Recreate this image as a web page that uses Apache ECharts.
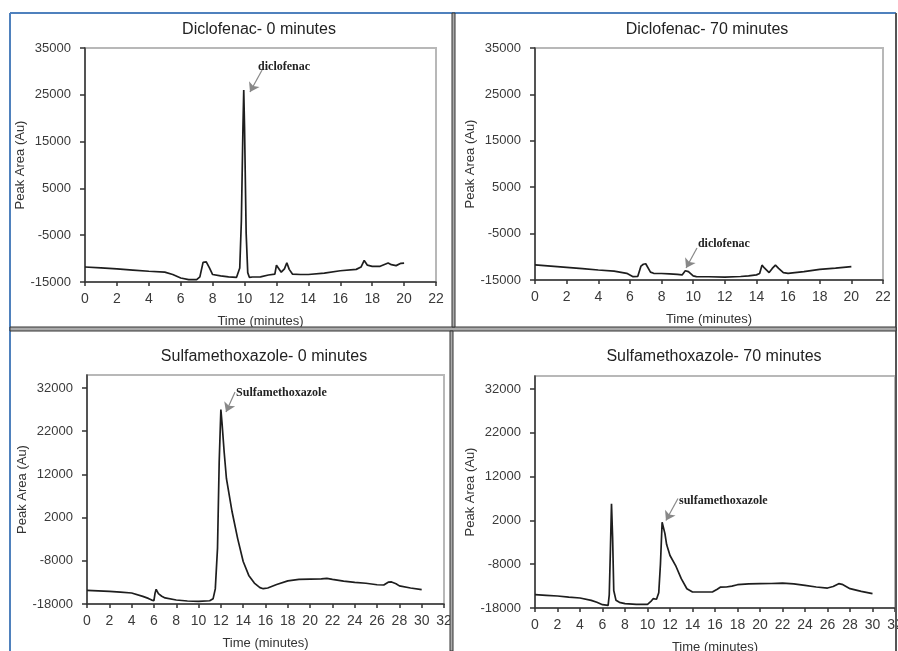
<!DOCTYPE html>
<html>
<head>
<meta charset="utf-8">
<script src="https://cdn.jsdelivr.net/npm/echarts@6/dist/echarts.min.js"></script>
<style>
html,body{margin:0;padding:0;background:#fff;}
#chart{width:898px;height:651px;}
</style>
</head>
<body>
<div id="chart"></div>
<script>
// ---------- DATA ----------
const titles = ['Diclofenac- 0 minutes', 'Diclofenac- 70 minutes', 'Sulfamethoxazole- 0 minutes', 'Sulfamethoxazole- 70 minutes'];

const diclo0Time = [0,1,2,3,4,5,5.5,6,6.5,7,7.2,7.4,7.5,7.6,7.8,8,8.5,9,9.5,9.7,9.8,9.9,9.95,10,10.1,10.2,10.3,10.5,11,11.5,11.9,12,12.1,12.3,12.5,12.65,12.8,13,13.5,14,15,16,17,17.3,17.5,17.7,18,18.5,19,19.2,19.5,19.8,20];
const diclo0Area = [-11800,-12000,-12200,-12450,-12700,-12900,-13400,-14150,-14500,-14500,-13900,-10800,-10400,-10700,-12000,-13400,-13700,-13900,-14000,-12000,-2000,18000,26000,18000,-4500,-13000,-14000,-13930,-13900,-13500,-13300,-11400,-11600,-12900,-12200,-10900,-12300,-13300,-13400,-13400,-13100,-12600,-12300,-11800,-10400,-11400,-11650,-11650,-10950,-11300,-11500,-11000,-10950];

const diclo70Time = [0,1,2,3,4,5,5.8,6.2,6.5,6.7,6.85,7,7.1,7.3,7.5,8,8.5,9,9.3,9.5,9.7,10,10.2,11,12,13,13.5,14,14.2,14.35,14.5,14.8,15,15.2,15.4,15.7,16,17,18,19,20];
const diclo70Area = [-11760,-12000,-12260,-12550,-12840,-13100,-13560,-14280,-14200,-12000,-11600,-11500,-11900,-13300,-13560,-13600,-13700,-13800,-13900,-13000,-13200,-14100,-14280,-14300,-14400,-14250,-14100,-13900,-13600,-11800,-12400,-13400,-12500,-11800,-12500,-13400,-13560,-13200,-12700,-12450,-12120];

const sulfa0Time = [0,1,2,3,4,5,5.5,5.8,6,6.1,6.2,6.4,6.7,7,8,9,10,11,11.3,11.5,11.7,11.85,12,12.1,12.3,12.5,13,13.5,14,14.5,15,15.5,15.8,16.2,17,18,19,20,21,21.5,22,23,24,25,26,26.6,27,27.3,27.7,28,29,30];
const sulfa0Area = [-14850,-14950,-15080,-15250,-15460,-16230,-16700,-17100,-17200,-15500,-14600,-15600,-16200,-16600,-17080,-17300,-17380,-17250,-16800,-14500,-5000,15000,27000,24000,17000,11000,3400,-2800,-8150,-11380,-13150,-14200,-14460,-14300,-13500,-12650,-12300,-12230,-12200,-12050,-12300,-12700,-13000,-13200,-13540,-13600,-12950,-12900,-13300,-13800,-14300,-14690];

const sulfa70Time = [0,1,2,3,4,5,5.5,6,6.5,6.6,6.7,6.8,6.9,7.0,7.2,7.5,8,9,10,10.3,10.5,10.8,11,11.15,11.3,11.4,11.55,11.7,12,12.5,13,13.5,14,15,15.8,16.2,16.5,17,17.5,18,19,20,21,22,23,24,25,26,26.5,27,27.3,28,29,30];
const sulfa70Area = [-14960,-15100,-15260,-15500,-15720,-16250,-16700,-17240,-17390,-15000,-5000,5800,-2000,-14000,-16250,-16700,-17010,-17150,-17160,-16500,-15870,-16000,-14500,-8000,1600,2000,-1000,-3500,-6000,-8300,-11300,-13600,-14350,-14350,-14300,-13700,-13210,-13200,-13000,-12680,-12500,-12450,-12400,-12300,-12500,-12830,-13200,-13440,-13100,-12450,-12600,-13590,-14200,-14730];

const dicloYTicks = [-15000,-5000,5000,15000,25000,35000];
const sulfaYTicks = [-18000,-8000,2000,12000,22000,32000];
const dicloXTicks = [0,2,4,6,8,10,12,14,16,18,20,22];
const sulfaXTicks = [0,2,4,6,8,10,12,14,16,18,20,22,24,26,28,30,32];

// ---------- CHART ----------
const zip = (a, b) => a.map((x, i) => [x, b[i]]);
const FONT = 'Liberation Sans, Arial, sans-serif';
const chart = echarts.init(document.getElementById('chart'), null, {renderer: 'canvas'});

const grids = [
  {left: 85, top: 48, width: 351, height: 234},
  {left: 535, top: 48, width: 348, height: 232},
  {left: 87, top: 375, width: 357, height: 229},
  {left: 535, top: 376, width: 360, height: 232}
].map(g => Object.assign(g, {show: true, containLabel: false, outerBoundsMode: 'none', borderColor: '#b8b8b8', borderWidth: 2, backgroundColor: 'transparent'}));

function xAxis(i, ticks) {
  return {
    type: 'value', gridIndex: i, min: ticks[0], max: ticks[ticks.length - 1], interval: 2,
    name: 'Time (minutes)', nameLocation: 'middle', nameGap: 33,
    nameTextStyle: {fontFamily: FONT, fontSize: 13, color: '#333'},
    axisLine: {show: true, onZero: false, lineStyle: {color: '#333', width: 1.5}},
    axisTick: {show: true, length: 4, lineStyle: {color: '#333', width: 1.5}},
    axisLabel: {fontFamily: FONT, fontSize: 14, color: '#3a3a3a', margin: 10, formatter: v => String(v)},
    splitLine: {show: false}
  };
}
function yAxis(i, ticks, max) {
  return {
    type: 'value', gridIndex: i, min: ticks[0], max: max,
    name: 'Peak Area (Au)', nameLocation: 'middle', nameGap: 58,
    nameTextStyle: {fontFamily: FONT, fontSize: 13, color: '#333'},
    axisLine: {show: true, onZero: false, lineStyle: {color: '#333', width: 1.5}},
    axisTick: {show: true, length: 5, customValues: ticks, lineStyle: {color: '#333', width: 1.5}},
    axisLabel: {fontFamily: FONT, fontSize: 13, color: '#3a3a3a', margin: 14, customValues: ticks, formatter: v => String(v)},
    splitLine: {show: false}
  };
}

const annLabel = {show: true, position: 'right', distance: 0, fontFamily: 'Liberation Serif, Times New Roman, serif', fontWeight: 'bold', fontSize: 12, color: '#222'};
function annotate(text, textAt, from, to) {
  return {
    markPoint: {
      symbol: 'circle', symbolSize: 0, silent: true, animation: false,
      label: Object.assign({formatter: text}, annLabel),
      data: [{coord: textAt}]
    },
    markLine: {
      silent: true, animation: false, symbol: ['none', 'arrow'], symbolSize: 9,
      lineStyle: {color: '#888', width: 1.2, type: 'solid'},
      label: {show: false},
      data: [[{coord: from}, {coord: to}]]
    }
  };
}

function series(i, t, v, ann) {
  return Object.assign({
    type: 'line', xAxisIndex: i, yAxisIndex: i, data: zip(t, v),
    showSymbol: false, symbol: 'none', smooth: false, animation: false,
    lineStyle: {color: '#1e1e1e', width: 1.7}
  }, ann);
}

const titleCenters = [[254, 17], [702, 17], [259, 344], [709, 344]];

const option = {
  backgroundColor: '#fff',
  title: titles.map((t, i) => ({
    text: t, left: titleCenters[i][0], top: titleCenters[i][1], textAlign: 'center',
    textStyle: {fontFamily: FONT, fontSize: 16, fontWeight: 'normal', color: '#222'}
  })),
  grid: grids,
  xAxis: [xAxis(0, dicloXTicks), xAxis(1, dicloXTicks), xAxis(2, sulfaXTicks), xAxis(3, sulfaXTicks)],
  yAxis: [yAxis(0, dicloYTicks, 35000), yAxis(1, dicloYTicks, 35000), yAxis(2, sulfaYTicks, 35000), yAxis(3, sulfaYTicks, 35000)],
  series: [
    series(0, diclo0Time, diclo0Area, annotate('diclofenac', [10.85, 31000], [11.1, 30300], [10.34, 25600])),
    series(1, diclo70Time, diclo70Area, annotate('diclofenac', [10.3, -7240], [10.24, -8100], [9.55, -12410])),
    series(2, sulfa0Time, sulfa0Area, annotate('Sulfamethoxazole', [13.36, 30840], [13.27, 31070], [12.46, 26440])),
    series(3, sulfa70Time, sulfa70Area, annotate('sulfamethoxazole', [12.8, 6545], [12.71, 7000], [11.64, 2000]))
  ],
  graphic: [
    {type: 'line', z: 100, shape: {x1: 10, y1: 13, x2: 896, y2: 13}, style: {stroke: '#4f81bd', lineWidth: 2}},
    {type: 'line', z: 100, shape: {x1: 10, y1: 13, x2: 10, y2: 651}, style: {stroke: '#4f81bd', lineWidth: 2}},
    {type: 'line', z: 100, shape: {x1: 896, y1: 13, x2: 896, y2: 651}, style: {stroke: '#555', lineWidth: 2}},
    {type: 'rect', z: 100, shape: {x: 10, y: 327, width: 886, height: 4}, style: {fill: '#aaa', stroke: '#333', lineWidth: 1}},
    {type: 'rect', z: 100, shape: {x: 452, y: 13, width: 3, height: 314}, style: {fill: '#aaa', stroke: '#333', lineWidth: 1}},
    {type: 'rect', z: 100, shape: {x: 450, y: 331, width: 3, height: 320}, style: {fill: '#aaa', stroke: '#333', lineWidth: 1}}
  ]
};
chart.setOption(option);
</script>
</body>
</html>
